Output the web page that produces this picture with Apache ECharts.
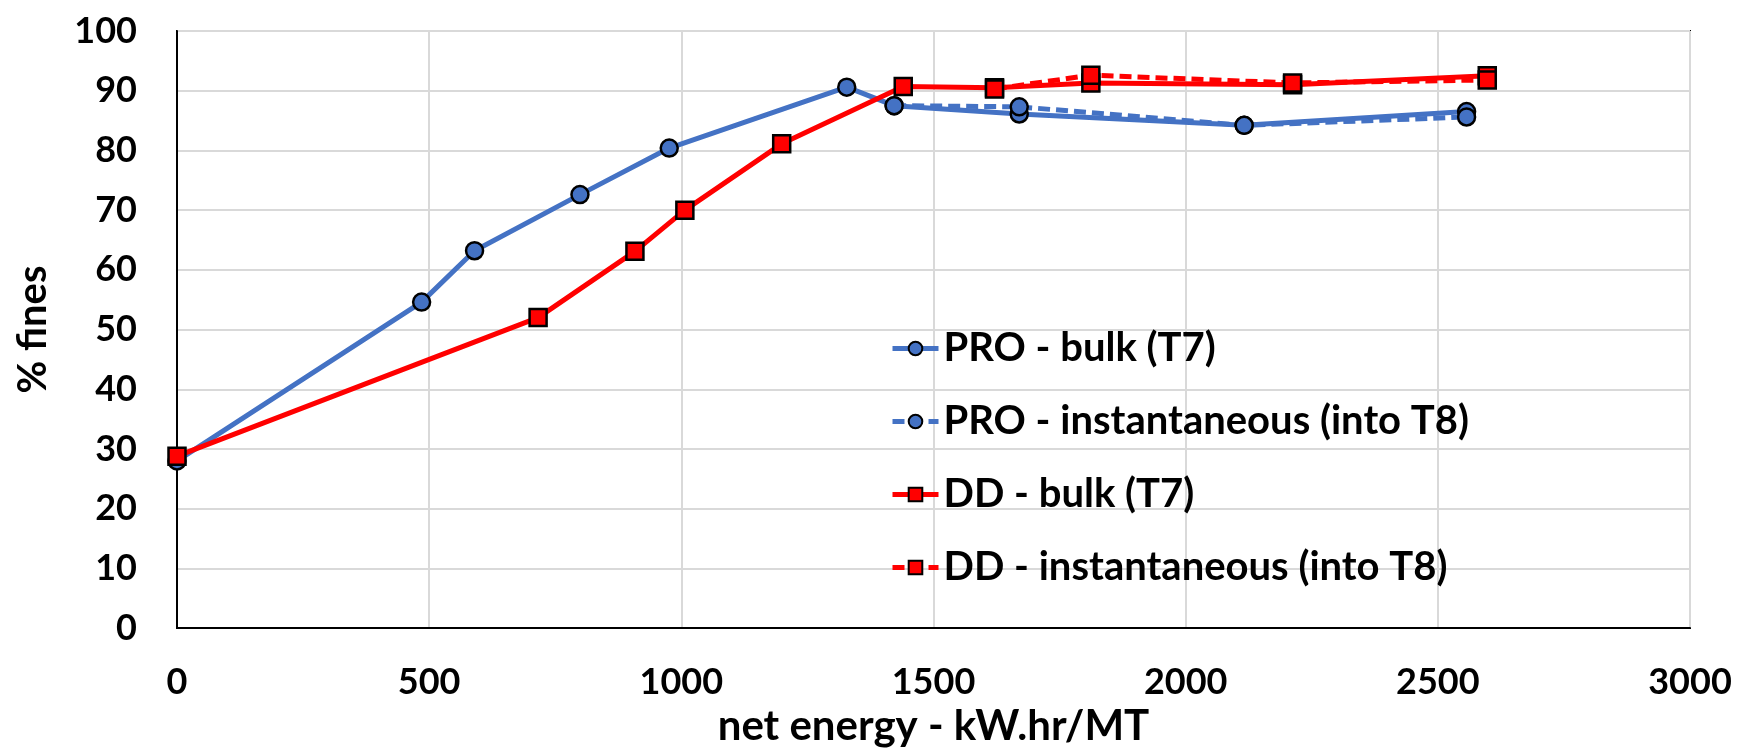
<!DOCTYPE html>
<html>
<head>
<meta charset="utf-8">
<script src="https://cdn.jsdelivr.net/npm/echarts@6/dist/echarts.min.js"></script>
<style>
  html, body { margin: 0; padding: 0; background: #fff; }
  #main { width: 1754px; height: 752px; }
</style>
</head>
<body>
<div id="main"></div>
<script>
// values
var proBulkX = [0, 485, 590, 799, 976, 1328, 1422, 1670, 2116, 2557];
var proBulkY = [28.0, 54.6, 63.2, 72.6, 80.4, 90.6, 87.5, 86.1, 84.2, 86.5];
var proInstX = [1422, 1670, 2116, 2557];
var proInstY = [87.5, 87.3, 84.2, 85.6];
var ddBulkX = [0, 716, 908, 1007, 1199, 1440, 1621, 1812, 2212, 2598];
var ddBulkY = [28.8, 52.0, 63.1, 70.0, 81.1, 90.7, 90.5, 91.3, 91.0, 92.5];
var ddInstX = [1621, 1812, 2212, 2598];
var ddInstY = [90.3, 92.6, 91.3, 91.8];
var seriesNames = ['PRO - bulk (T7)', 'PRO - instantaneous (into T8)', 'DD - bulk (T7)', 'DD - instantaneous (into T8)'];

function pairs(xs, ys) {
    return xs.map(function (x, i) { return [x, ys[i]]; });
}

var font = 'Lato, "Open Sans", sans-serif';
var blue = '#4472C4';
var red = '#FF0000';

function lineSeries(name, data, color, dashed, symbol, z) {
    return {
        name: name,
        type: 'line',
        data: data,
        z: z,
        symbol: symbol,
        symbolSize: 17,
        lineStyle: { color: color, width: 5, type: dashed ? [12, 6] : 'solid' },
        itemStyle: { color: color, borderColor: '#000', borderWidth: 2.5 }
    };
}

var myChart = echarts.init(document.getElementById('main'));
var option = {
    animation: false,
    grid: {
        left: 177, right: 64, top: 31, bottom: 110,
        show: true, borderColor: '#000', borderWidth: 2
    },
    legend: {
        orient: 'vertical',
        left: 885,
        top: 323,
        itemWidth: 46,
        itemHeight: 17,
        itemGap: 32,
        data: seriesNames,
        lineStyle: { width: 5 },
        textStyle: { fontFamily: font, fontWeight: 'bold', fontSize: 40, color: '#000', lineHeight: 41 }
    },
    xAxis: {
        type: 'value',
        min: 0, max: 3000, interval: 500,
        name: 'net energy - kW.hr/MT',
        nameLocation: 'middle',
        nameGap: 60,
        nameTextStyle: { fontFamily: font, fontWeight: 'bold', fontSize: 42, color: '#000' },
        axisLine: { lineStyle: { color: '#000', width: 2 } },
        axisTick: { show: false },
        axisLabel: {
            margin: 36, fontFamily: font, fontWeight: 'bold', fontSize: 36, color: '#000',
            formatter: function (v) { return String(v); }
        },
        splitLine: { lineStyle: { color: '#d9d9d9', width: 2 } }
    },
    yAxis: {
        type: 'value',
        min: 0, max: 100, interval: 10,
        name: '% fines',
        nameLocation: 'middle',
        nameGap: 124,
        nameRotate: 90,
        nameTextStyle: { fontFamily: font, fontWeight: 'bold', fontSize: 40, color: '#000' },
        axisLine: { show: true, lineStyle: { color: '#000', width: 2 } },
        axisTick: { show: false },
        axisLabel: { margin: 40, fontFamily: font, fontWeight: 'bold', fontSize: 36, color: '#000' },
        splitLine: { lineStyle: { color: '#d9d9d9', width: 2 } }
    },
    series: [
        lineSeries(seriesNames[0], pairs(proBulkX, proBulkY), blue, false, 'circle', 2),
        lineSeries(seriesNames[1], pairs(proInstX, proInstY), blue, true, 'circle', 3),
        lineSeries(seriesNames[2], pairs(ddBulkX, ddBulkY), red, false, 'rect', 4),
        lineSeries(seriesNames[3], pairs(ddInstX, ddInstY), red, true, 'rect', 5)
    ]
};
myChart.setOption(option);
</script>
</body>
</html>
